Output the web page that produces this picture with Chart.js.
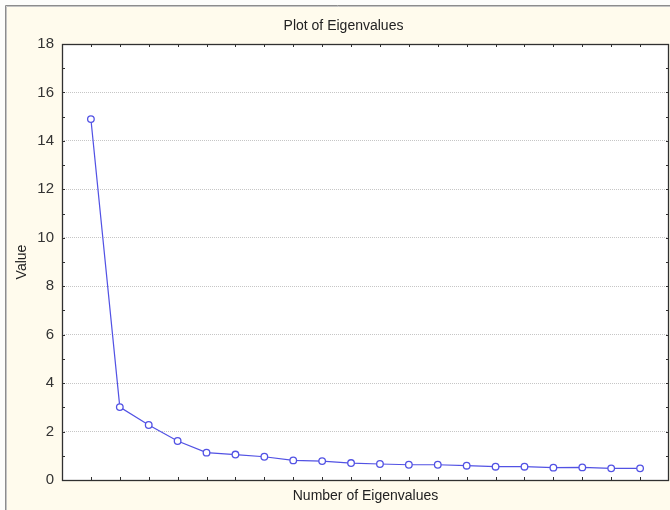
<!DOCTYPE html>
<html>
<head>
<meta charset="utf-8">
<title>Plot of Eigenvalues</title>
<script src="https://cdn.jsdelivr.net/npm/chart.js@4.4.1/dist/chart.umd.min.js"></script>
<style>
  html, body { margin: 0; padding: 0; background: #fdfdfb; }
  #wrap { width: 670px; height: 510px; }
</style>
</head>
<body>
<div id="wrap"><canvas id="eigenChart" width="670" height="510"></canvas></div>
<script>
// eigenvalue number and its value
const eigenNumbers = [1, 2, 3, 4, 5, 6, 7, 8, 9, 10, 11, 12, 13, 14, 15, 16, 17, 18, 19, 20];
const eigenValues = [14.9, 3.01, 2.27, 1.61, 1.13, 1.05, 0.96, 0.81, 0.78, 0.70,
                     0.66, 0.63, 0.63, 0.59, 0.55, 0.55, 0.51, 0.52, 0.48, 0.48];
const yTickValues = [0, 2, 4, 6, 8, 10, 12, 14, 16, 18];

const fontFamily = "'Liberation Sans', Arial, sans-serif";

// cream panel, frame and white plot area
const backdrop = {
  id: "backdrop",
  beforeDraw(chart) {
    const { ctx, chartArea, width, height } = chart;
    ctx.save();
    ctx.fillStyle = "#fdfdfb";
    ctx.fillRect(0, 0, width, height);
    ctx.fillStyle = "#fffbed";
    ctx.fillRect(6, 6, width - 6, height - 6);
    ctx.strokeStyle = "#8c8c8c";
    ctx.lineWidth = 1;
    ctx.beginPath();
    ctx.moveTo(5.5, height);
    ctx.lineTo(5.5, 5.5);
    ctx.lineTo(width, 5.5);
    ctx.stroke();
    ctx.strokeStyle = "#c4c4c4";
    ctx.beginPath();
    ctx.moveTo(6.5, height);
    ctx.lineTo(6.5, 6.5);
    ctx.lineTo(width, 6.5);
    ctx.stroke();
    ctx.fillStyle = "#ffffff";
    ctx.fillRect(chartArea.left, chartArea.top,
      chartArea.right - chartArea.left, chartArea.bottom - chartArea.top);
    ctx.restore();
  },
};

// box round the plot, with short ticks pointing inward on all four sides
const frameTicks = {
  id: "frameTicks",
  beforeDatasetsDraw(chart) {
    const { ctx, chartArea } = chart;
    const xs = chart.scales.x;
    const ys = chart.scales.y;
    const len = 3;
    ctx.save();
    ctx.strokeStyle = "#303030";
    ctx.lineWidth = 1;
    ctx.beginPath();
    eigenNumbers.forEach((n) => {
      const px = Math.round(xs.getPixelForValue(n)) + 0.5;
      ctx.moveTo(px, chartArea.bottom);
      ctx.lineTo(px, chartArea.bottom - len);
      ctx.moveTo(px, chartArea.top);
      ctx.lineTo(px, chartArea.top + len);
    });
    for (let v = ys.min; v <= ys.max; v++) {
      const py = Math.round(ys.getPixelForValue(v)) + 0.5;
      ctx.moveTo(chartArea.left, py);
      ctx.lineTo(chartArea.left + len, py);
      ctx.moveTo(chartArea.right, py);
      ctx.lineTo(chartArea.right - len, py);
    }
    ctx.stroke();
    ctx.lineWidth = 1.3;
    ctx.strokeRect(Math.round(chartArea.left) + 0.5, Math.round(chartArea.top) + 0.5,
      Math.round(chartArea.right - chartArea.left) - 1, Math.round(chartArea.bottom - chartArea.top));
    ctx.restore();
  },
};

const ctx = document.getElementById("eigenChart").getContext("2d");

const chart = new Chart(ctx, {
  type: "line",
  data: {
    datasets: [
      {
        label: "Eigenvalue",
        data: eigenNumbers.map((n, i) => ({ x: n, y: eigenValues[i] })),
        borderColor: "#5252e4",
        borderWidth: 1.2,
        pointRadius: 3.3,
        pointBorderWidth: 1.3,
        pointBackgroundColor: "#ffffff",
        pointBorderColor: "#5252e4",
        tension: 0,
      },
    ],
  },
  options: {
    responsive: false,
    animation: false,
    layout: {
      autoPadding: false,
      padding: { left: 18, right: 1, top: 0, bottom: 0 },
    },
    plugins: {
      legend: { display: false },
      tooltip: { enabled: false },
      title: {
        display: true,
        text: "Plot of Eigenvalues",
        color: "#222222",
        font: { family: fontFamily, size: 14, weight: "normal", lineHeight: 1.2 },
        padding: { top: 17.6, bottom: 9.6 },
      },
    },
    scales: {
      x: {
        type: "linear",
        min: 0,
        max: 21,
        grid: { display: false },
        border: { display: false },
        ticks: { display: false, stepSize: 1 },
        title: {
          display: true,
          text: "Number of Eigenvalues",
          color: "#222222",
          font: { family: fontFamily, size: 14, lineHeight: 1.2 },
          padding: { top: 0, bottom: 5.6 },
        },
        afterFit(scale) {
          scale.height = 30;
        },
      },
      y: {
        min: 0,
        max: 18,
        afterBuildTicks(scale) {
          const steps = [];
          for (let v = 0; v <= 18; v++) steps.push({ value: v });
          scale.ticks = steps;
        },
        grid: {
          drawTicks: false,
          lineWidth: 1,
          color: (c) => {
            const v = c.tick ? c.tick.value : 0;
            return v % 2 === 0 && v > 0 && v < 18 ? "#c6c6c6" : "rgba(0,0,0,0)";
          },
        },
        border: { display: false, dash: [1, 1] },
        ticks: {
          color: "#333333",
          padding: 8,
          font: { family: fontFamily, size: 15 },
          callback: (v) => (yTickValues.includes(v) ? v : ""),
        },
        title: {
          display: true,
          text: "Value",
          color: "#222222",
          font: { family: fontFamily, size: 14, lineHeight: 1.2 },
          padding: { top: -4.4, bottom: 0 },
        },
        afterFit(scale) {
          scale.width = 44;
        },
      },
    },
  },
  plugins: [backdrop, frameTicks],
});
</script>
</body>
</html>
